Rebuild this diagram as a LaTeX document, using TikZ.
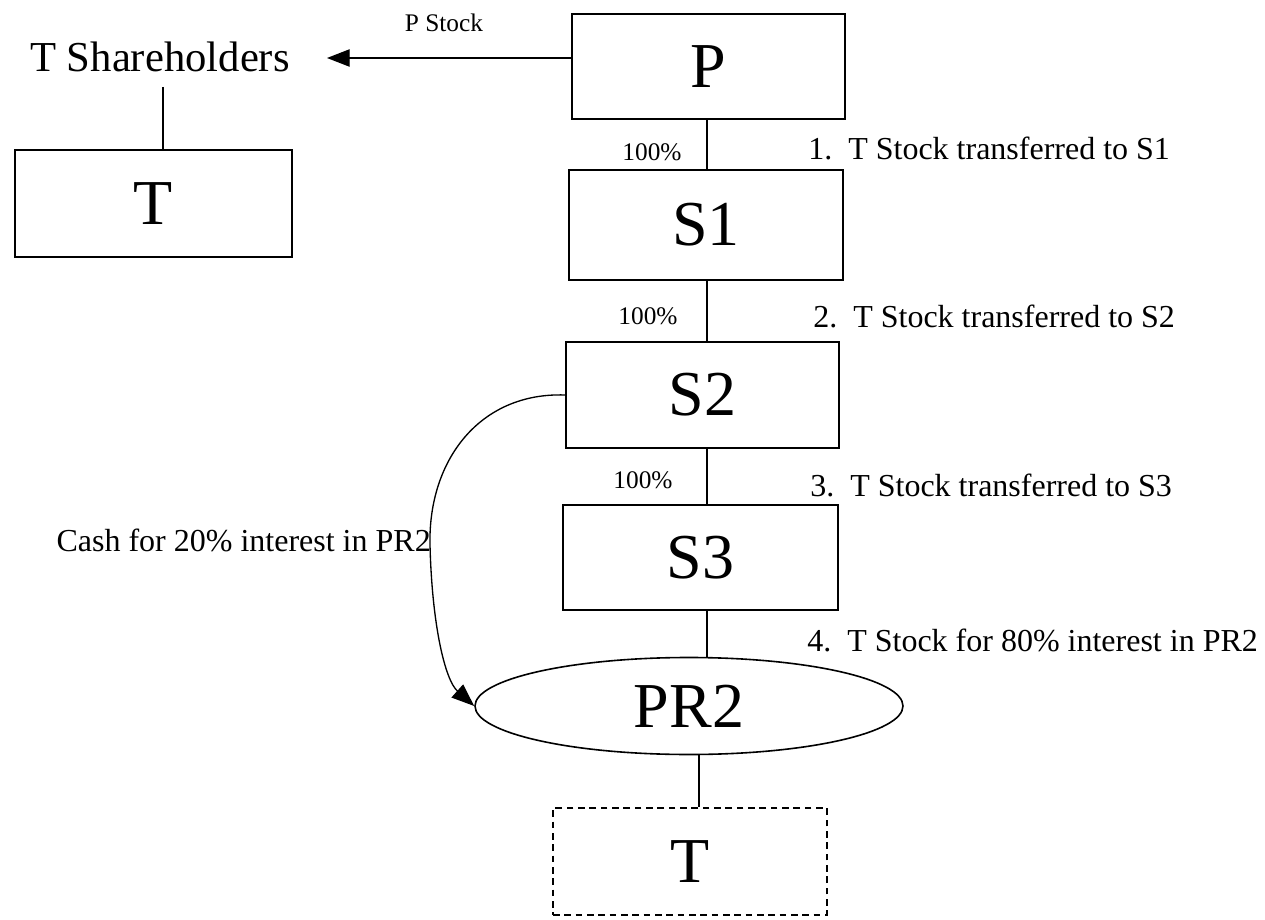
\documentclass[tikz,border=0pt]{standalone}
\usepackage{fontspec}
\setmainfont{Liberation Serif}
\usetikzlibrary{arrows.meta,shapes.geometric}
\newcommand{\bigfont}{\fontsize{48}{50}\selectfont}
\newcommand{\midfont}{\fontsize{32}{34}\selectfont}
\newcommand{\lblfont}{\fontsize{24}{26}\selectfont}
\newcommand{\pctfont}{\fontsize{19}{21}\selectfont}
\tikzset{
  entity/.style={draw, line width=1.2pt, rectangle, inner sep=0pt, font=\bigfont},
  dashedentity/.style={entity, dashed, dash pattern=on 5pt off 3.5pt},
  partner/.style={draw, line width=1.2pt, ellipse, inner sep=0pt, font=\bigfont},
  link/.style={line width=1pt},
  flow/.style={line width=1pt, -{Triangle[length=17pt,width=13pt]}},
  steplabel/.style={anchor=west, inner sep=0pt, font=\lblfont},
  pctlabel/.style={inner sep=0pt, font=\pctfont},
}
\begin{document}
\begin{tikzpicture}[x=0.75pt,y=-0.75pt]
\useasboundingbox (0,0) rectangle (1265,920);
% axis coordinates
\coordinate (axis) at (707,0);
\coordinate (axisB) at (699,0);
\coordinate (tsaxis) at (163,0);
\coordinate (tsline) at (163,87);
\coordinate (arrowY) at (0,58);
\coordinate (tipTS) at (327,58);
% nodes
\node[entity, minimum width=204.75pt, minimum height=78.75pt] (P) at (708.5,66.5) {P};
\node[entity, minimum width=205.5pt, minimum height=82.5pt] (S1) at (706,225) {S1};
\node[entity, minimum width=204.75pt, minimum height=79.5pt] (S2) at (702.5,395) {S2};
\node[entity, minimum width=206.25pt, minimum height=78.75pt] (S3) at (700.5,557.5) {S3};
\node[partner, minimum width=321pt, minimum height=72.75pt] (PR2) at (689,706) {PR2};
\node[dashedentity, minimum width=205.5pt, minimum height=80.25pt] (T2) at (690,861.5) {T};
\node[entity, minimum width=207.75pt, minimum height=80.25pt] (T) at (153.5,203.5) {T};
\node[font=\midfont, inner sep=0pt] (TS) at (160,57) {T Shareholders};
% labels
\node[pctlabel] (pstock) at (444,23) {P Stock};
\node[pctlabel] (pc1) at (652,152) {100\%};
\node[pctlabel] (pc2) at (648,316) {100\%};
\node[pctlabel] (pc3) at (643,480) {100\%};
\node[steplabel] (st1) at (808,148) {1.~~T Stock transferred to S1};
\node[steplabel] (st2) at (813,316) {2.~~T Stock transferred to S2};
\node[steplabel] (st3) at (810,485) {3.~~T Stock transferred to S3};
\node[steplabel] (st4) at (807,640) {4.~~T Stock for 80\% interest in PR2};
\node[anchor=east, inner sep=0pt, font=\lblfont] (cash) at (431,540) {Cash for 20\% interest in PR2};
% connectors
\draw[flow] (P.west |- arrowY) -- (tipTS);
\draw[link] (tsline) -- (T.north -| tsaxis);
\draw[link] (P.south -| axis) -- (S1.north -| axis);
\draw[link] (S1.south -| axis) -- (S2.north -| axis);
\draw[link] (S2.south -| axis) -- (S3.north -| axis);
\draw[link] (S3.south -| axis) -- (PR2.north -| axis);
\draw[link] (PR2.south -| axisB) -- (T2.north -| axisB);
\draw[flow] (S2.west) .. controls (480,392) and (428,460) .. (430,545)
  .. controls (432,625) and (445,680) .. (PR2.west);
\end{tikzpicture}
\end{document}
